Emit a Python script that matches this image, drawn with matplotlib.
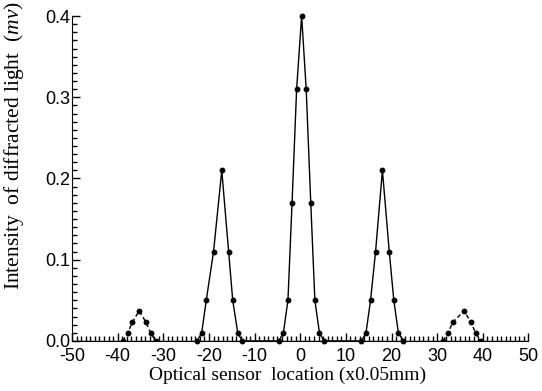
import numpy as np
import matplotlib
matplotlib.use("Agg")
from matplotlib import pyplot as plt
from matplotlib.ticker import MultipleLocator, FormatStrFormatter

plt.rcParams['axes.unicode_minus'] = False
plt.rcParams['mathtext.fontset'] = 'custom'
plt.rcParams['mathtext.it'] = 'Liberation Serif:italic'
plt.rcParams['mathtext.rm'] = 'Liberation Serif'

# central + first order peaks (solid line)
main_x = [-22.6, -21.6, -20.6, -19.0, -17.2, -15.7, -14.8, -13.7, -12.7,
          -4.7, -3.7, -2.7, -1.8, -0.8, 0.3, 1.3, 2.3, 3.2, 4.2, 5.2,
          13.4, 14.4, 15.4, 16.5, 18.0, 19.5, 20.5, 21.5, 22.6]
main_y = [0.0, 0.01, 0.05, 0.11, 0.21, 0.11, 0.05, 0.01, 0.0,
          0.0, 0.01, 0.05, 0.17, 0.31, 0.40, 0.31, 0.17, 0.05, 0.01, 0.0,
          0.0, 0.01, 0.05, 0.11, 0.21, 0.11, 0.05, 0.01, 0.0]

# second order peaks (dashed line)
left_x = [-38.9, -37.8, -36.8, -35.3, -33.8, -32.8, -31.7]
left_y = [0.0, 0.01, 0.023, 0.037, 0.023, 0.01, 0.0]
right_x = [31.3, 32.4, 33.4, 35.9, 37.4, 38.4, 39.5]
right_y = [0.0, 0.01, 0.023, 0.037, 0.023, 0.01, 0.0]

fig = plt.figure(figsize=(5.42, 3.91), dpi=100)
ax = fig.add_axes([0.133, 0.128, 0.842, 0.831])

ax.plot([-50, 50], [0, 0], color='black', lw=1)
ax.plot(main_x, main_y, '-o', color='black', lw=1, ms=3.2, clip_on=False)
ax.plot(left_x, left_y, '--o', color='black', lw=1, ms=3.2, dashes=(3, 2))
ax.plot(right_x, right_y, '--o', color='black', lw=1, ms=3.2, dashes=(3, 2))

ax.set_xlim(-50, 50)
ax.set_ylim(0, 0.4)
ax.spines['top'].set_visible(False)
ax.spines['right'].set_visible(False)
ax.xaxis.set_major_locator(MultipleLocator(10))
ax.xaxis.set_minor_locator(MultipleLocator(1))
ax.yaxis.set_major_locator(MultipleLocator(0.1))
ax.yaxis.set_minor_locator(MultipleLocator(0.01))
ax.yaxis.set_major_formatter(FormatStrFormatter('%.1f'))
ax.tick_params(which='both', direction='in', width=1)
ax.tick_params(which='major', length=6, labelsize=13)
ax.tick_params(which='minor', length=3.5)
ax.tick_params(axis='x', which='major', pad=5)
ax.tick_params(axis='y', which='major', pad=1)
for lab in ax.get_xticklabels() + ax.get_yticklabels():
    lab.set_fontfamily('Liberation Sans')

ax.set_xlabel("Optical sensor  location (x0.05mm)", fontfamily='Liberation Serif',
              fontsize=14)
ax.set_ylabel(r"Intensity  of diffracted light  ($\mathit{mv}$)", fontfamily='Liberation Serif',
              fontsize=15.5)
ax.xaxis.set_label_coords(0.473, -0.078)
ax.yaxis.set_label_coords(-0.1, 0.6)

plt.savefig("out.png", dpi=100)
plt.close()
